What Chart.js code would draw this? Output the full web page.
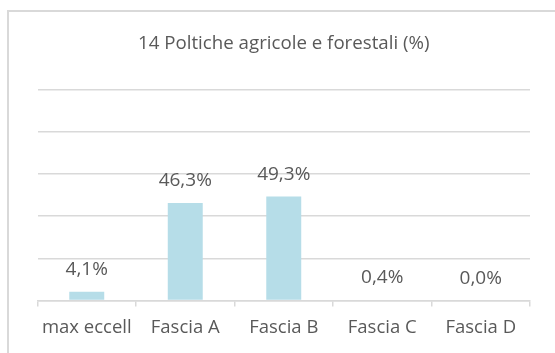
<!DOCTYPE html>
<html>
<head>
<meta charset="utf-8">
<script src="https://cdn.jsdelivr.net/npm/chart.js@4/dist/chart.umd.min.js"></script>
<style>
  html, body { margin: 0; padding: 0; background: #ffffff; }
  #wrap { position: relative; width: 555px; height: 353px; }
</style>
</head>
<body>
<div id="wrap"><canvas id="c" width="555" height="353"></canvas></div>
<script>
// Chart data
const chartTitle = '14 Poltiche agricole e forestali (%)';
const categories = ['max eccell', 'Fascia A', 'Fascia B', 'Fascia C', 'Fascia D'];
const shares = [4.1, 46.3, 49.3, 0.4, 0.0];
const yTicks = [0, 20, 40, 60, 80, 100];

const textColor = '#595959';
const gridColor = '#d9d9d9';
const barColor = '#b6dde8';
const fontFamily = '"Open Sans", "Liberation Sans", sans-serif';

const fmt = v => v.toFixed(1).replace('.', ',') + '%';

// Light frame around the chart block
const framePlugin = {
  id: 'frame',
  beforeDraw(chart) {
    const ctx = chart.ctx;
    ctx.save();
    ctx.strokeStyle = gridColor;
    ctx.lineWidth = 2;
    ctx.beginPath();
    ctx.moveTo(8, chart.height);
    ctx.lineTo(8, 11);
    ctx.lineTo(chart.width, 11);
    ctx.stroke();
    ctx.restore();
  }
};

// Value labels above each bar
const valueLabels = {
  id: 'valueLabels',
  afterDatasetsDraw(chart) {
    const ctx = chart.ctx;
    const meta = chart.getDatasetMeta(0);
    ctx.save();
    ctx.fillStyle = textColor;
    ctx.font = '19px ' + fontFamily;
    ctx.textAlign = 'center';
    ctx.textBaseline = 'middle';
    meta.data.forEach((bar, i) => {
      ctx.fillText(fmt(shares[i]), bar.x, bar.y - 22);
    });
    ctx.restore();
  }
};

new Chart(document.getElementById('c'), {
  type: 'bar',
  data: {
    labels: categories,
    datasets: [{
      data: shares,
      backgroundColor: barColor,
      borderWidth: 0,
      categoryPercentage: 1.0,
      barPercentage: 0.355
    }]
  },
  options: {
    responsive: false,
    animation: false,
    devicePixelRatio: 1,
    layout: { padding: { left: 37.5, right: 25, top: 0, bottom: 0 } },
    plugins: {
      legend: { display: false },
      tooltip: { enabled: false },
      title: {
        display: true,
        text: chartTitle,
        color: textColor,
        font: { family: fontFamily, size: 18.7, weight: 'normal', lineHeight: 1.2 },
        padding: { top: 32, bottom: 35.3 }
      }
    },
    scales: {
      x: {
        afterFit(scale) { scale.height = 52.5; },
        grid: {
          offset: true,
          drawOnChartArea: false,
          drawTicks: true,
          tickLength: 6,
          color: gridColor,
          lineWidth: 1.5
        },
        border: { display: true, color: gridColor, width: 1.5 },
        ticks: {
          color: textColor,
          padding: 10,
          font: { family: fontFamily, size: 18.5 }
        }
      },
      y: {
        min: 0,
        max: 100,
        afterFit(scale) { scale.width = 0; },
        afterBuildTicks(scale) { scale.ticks = yTicks.map(v => ({ value: v })); },
        ticks: { display: false },
        grid: { color: gridColor, lineWidth: 1.5, drawTicks: false },
        border: { display: false }
      }
    }
  },
  plugins: [framePlugin, valueLabels]
});
</script>
</body>
</html>
